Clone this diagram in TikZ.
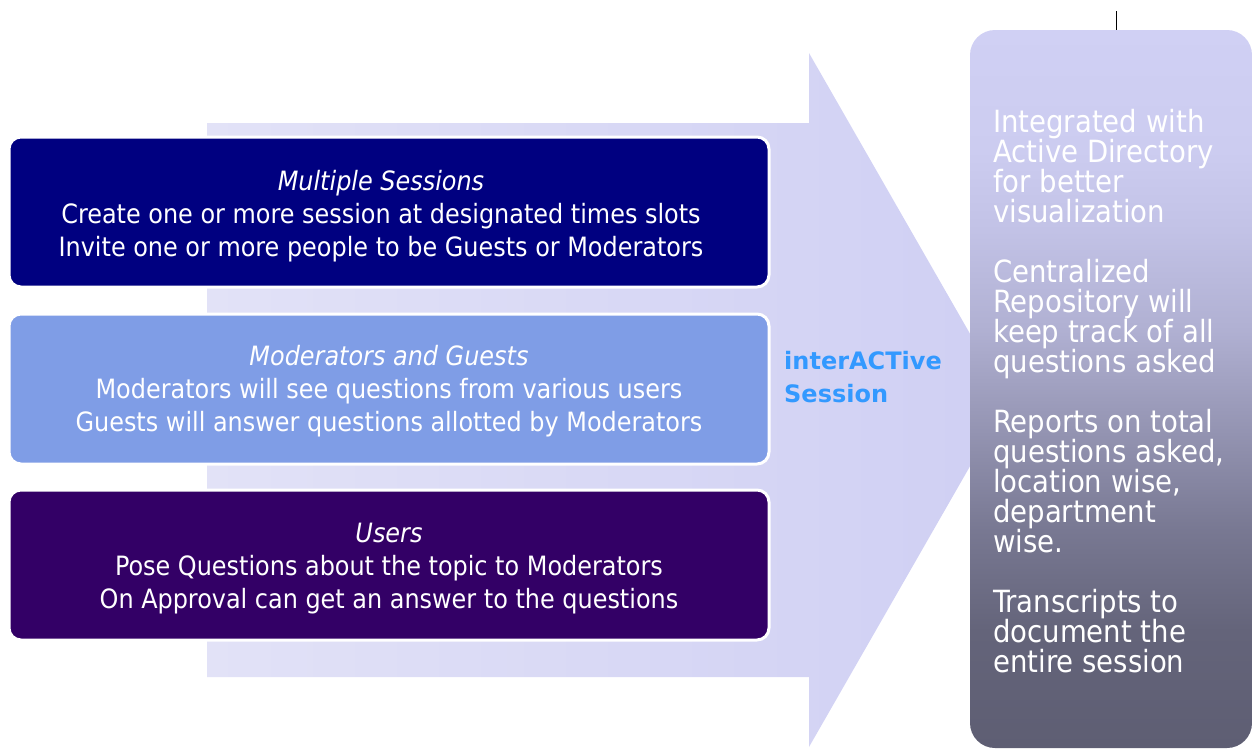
\documentclass[tikz,border=0pt]{standalone}
\usepackage{fontspec}
\setmainfont{DejaVu Sans Condensed}
\newfontfamily\labelfont{DejaVu Sans}
\definecolor{boxA}{HTML}{000080}
\definecolor{boxB}{HTML}{7F9DE6}
\definecolor{boxC}{HTML}{330066}
\definecolor{arrowL}{HTML}{E2E2F7}
\definecolor{arrowR}{HTML}{CFCFF3}
\definecolor{accent}{HTML}{3399FF}
\definecolor{rA}{RGB}{208,208,244}
\definecolor{rB}{RGB}{204,204,240}
\definecolor{rC}{RGB}{194,194,230}
\definecolor{rD}{RGB}{176,176,210}
\definecolor{rE}{RGB}{148,148,178}
\definecolor{rF}{RGB}{120,120,146}
\definecolor{rG}{RGB}{100,100,122}
\definecolor{rH}{RGB}{94,94,115}
\pgfdeclareverticalshading{rboxshade}{100bp}{color(0bp)=(rH); color(25bp)=(rH); color(33.16bp)=(rG); color(40.13bp)=(rF); color(47.1bp)=(rE); color(54.08bp)=(rD); color(61.05bp)=(rC); color(66.6bp)=(rB); color(75bp)=(rA); color(100bp)=(rA)}
\tikzset{
  panel/.style={rectangle, rounded corners=12pt, draw=white, line width=3pt, inner sep=0pt, minimum width=760pt, minimum height=150pt},
  paneltext/.style={text=white, inner sep=0pt, anchor=base, font=\fontsize{26.6}{33}\selectfont},
  sidetext/.style={text=white, inner sep=0pt, anchor=base west, font=\fontsize{30.6}{30}\selectfont},
  labeltext/.style={text=accent, inner sep=0pt, anchor=base west, font=\labelfont\bfseries\fontsize{24}{33}\selectfont},
}
\begin{document}
\begin{tikzpicture}[x=1pt,y=-1pt]
\useasboundingbox (0,0) rectangle (1253,748);
% big arrow
\shade[left color=arrowL, right color=arrowR] (207,123) -- (809,123) -- (809,53) -- (1008,400) -- (809,747) -- (809,677) -- (207,677) -- cycle;
% panels
\node[panel, fill=boxA] (p1) at (389,212) {};
\node[panel, fill=boxB] (p2) at (389,389) {};
\node[panel, fill=boxC] (p3) at (389,565) {};
\node[paneltext] (t1) at (381,190) {\begin{tabular}[t]{@{}c@{}}\itshape Multiple Sessions\\Create one or more session at designated times slots\\Invite one or more people to be Guests or Moderators\end{tabular}};
\node[paneltext] (t2) at (389,365) {\begin{tabular}[t]{@{}c@{}}\itshape Moderators and Guests\\Moderators will see questions from various users\\Guests will answer questions allotted by Moderators\end{tabular}};
\node[paneltext] (t3) at (389,542) {\begin{tabular}[t]{@{}c@{}}\itshape Users\\Pose Questions about the topic to Moderators\\On Approval can get an answer to the questions\end{tabular}};
% label
\node[labeltext] (lab) at (784,369) {\begin{tabular}[t]{@{}l@{}}interACTive\\Session\end{tabular}};
% right box
\node[rectangle, rounded corners=25pt, shade, shading=rboxshade, minimum width=282pt, minimum height=718pt, inner sep=0pt] (rbox) at (1111,389) {};
\coordinate (tick) at (1116,11);
\draw[line width=1pt] (tick) -- (tick |- rbox.north);
\node[sidetext] (side) at (993,132) {\parbox[t]{255pt}{\raggedright\lineskiplimit=-100pt
Integrated with\\Active Directory\\for better\\visualization\\[30pt]Centralized\\Repository will\\keep track of all\\questions asked\\[30pt]Reports on total\\questions asked,\\location wise,\\department\\wise.\\[30pt]Transcripts to\\document the\\entire session}};
\end{tikzpicture}
\end{document}
